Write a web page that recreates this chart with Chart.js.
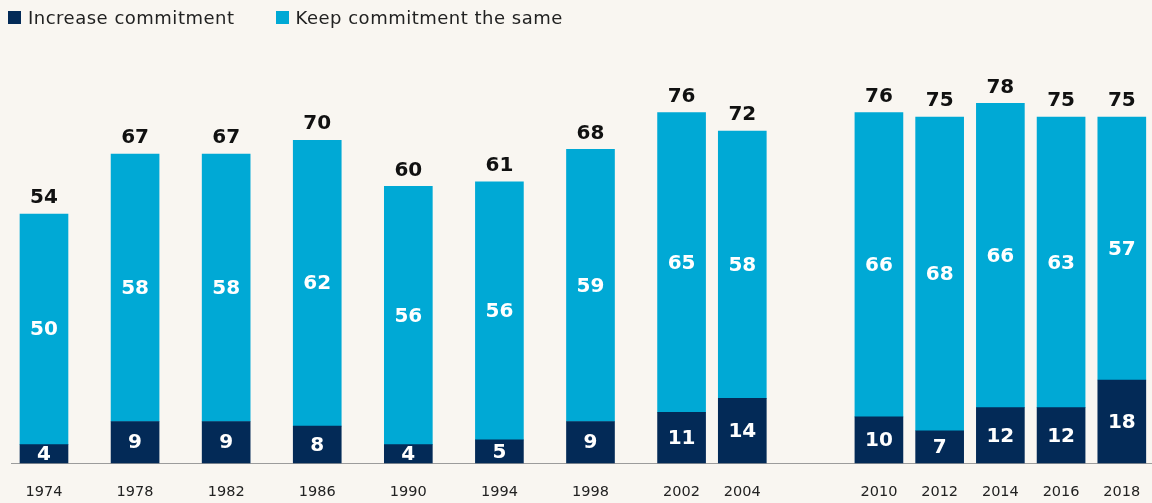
<!DOCTYPE html>
<html>
<head>
<meta charset="utf-8">
<script src="https://cdn.jsdelivr.net/npm/chart.js@4.4.1/dist/chart.umd.min.js"></script>
<style>
  html, body { margin: 0; padding: 0; background: #f9f6f1; }
  #wrap { position: relative; width: 1152px; height: 503px; }
  #legend {
    position: absolute; left: 8px; top: 7px;
    display: flex; gap: 41px;
    font-family: "DejaVu Sans", sans-serif; font-size: 18px; letter-spacing: 0.5px;
    color: #222;
  }
  .legend-item { display: flex; align-items: center; }
  .legend-box { width: 13px; height: 13px; margin-right: 7px; }
</style>
</head>
<body>
<div id="wrap">
  <canvas id="chart" width="1152" height="503"></canvas>
  <div id="legend"></div>
</div>
<script>
const years = [1974, 1978, 1982, 1986, 1990, 1994, 1998, 2002, 2004, 2010, 2012, 2014, 2016, 2018];
const increaseCommitment = [4, 9, 9, 8, 4, 5, 9, 11, 14, 10, 7, 12, 12, 18];
const keepCommitment = [50, 58, 58, 62, 56, 56, 59, 65, 58, 66, 68, 66, 63, 57];
const totals = [54, 67, 67, 70, 60, 61, 68, 76, 72, 76, 75, 78, 75, 75];

// empty category slots before each year, gives the uneven spacing of the original
const gapsBefore = [0, 5, 5, 5, 5, 5, 5, 5, 3, 8, 3, 3, 3, 3];

const NAVY = "#032a57";
const BLUE = "#00a9d5";

const labels = [];
const increaseSlots = [];
const keepSlots = [];
const totalSlots = [];
years.forEach((year, i) => {
    for (let g = 0; g < gapsBefore[i]; g++) {
        labels.push("");
        increaseSlots.push(null);
        keepSlots.push(null);
        totalSlots.push(null);
    }
    labels.push(String(year));
    increaseSlots.push(increaseCommitment[i]);
    keepSlots.push(keepCommitment[i]);
    totalSlots.push(totals[i]);
});

// numbers inside segments and totals on top
const barLabels = {
    id: "barLabels",
    afterDatasetsDraw(chart) {
        const ctx = chart.ctx;
        ctx.save();
        ctx.textAlign = "center";
        ctx.textBaseline = "middle";
        ctx.font = "bold 20px 'DejaVu Sans'";
        chart.data.datasets.forEach((ds, di) => {
            const meta = chart.getDatasetMeta(di);
            meta.data.forEach((bar, i) => {
                if (ds.data[i] == null) return;
                ctx.fillStyle = "#ffffff";
                ctx.fillText(ds.data[i], bar.x, (bar.y + bar.base) / 2 + 1);
            });
        });
        const topMeta = chart.getDatasetMeta(chart.data.datasets.length - 1);
        topMeta.data.forEach((bar, i) => {
            if (totalSlots[i] == null) return;
            ctx.fillStyle = "#111111";
            ctx.fillText(totalSlots[i], bar.x, bar.y - 16);
        });
        ctx.restore();
    }
};

// axis line runs the full width of the picture
const baseline = {
    id: "baseline",
    beforeDatasetsDraw(chart) {
        const ctx = chart.ctx;
        const y = chart.scales.y.getPixelForValue(0);
        ctx.save();
        ctx.strokeStyle = "#9c9c9c";
        ctx.lineWidth = 1.2;
        ctx.beginPath();
        ctx.moveTo(11, y + 0.5);
        ctx.lineTo(chart.width, y + 0.5);
        ctx.stroke();
        ctx.restore();
    }
};

const chart = new Chart(document.getElementById("chart"), {
    type: "bar",
    data: {
        labels: labels,
        datasets: [
            {
                label: "Increase commitment",
                data: increaseSlots,
                backgroundColor: NAVY,
                barThickness: 48,
                clip: false
            },
            {
                label: "Keep commitment the same",
                data: keepSlots,
                backgroundColor: BLUE,
                barThickness: 48,
                clip: false
            }
        ]
    },
    options: {
        responsive: false,
        animation: false,
        layout: {
            padding: { left: 36.4, right: 22.6, top: 48, bottom: 0 }
        },
        scales: {
            x: {
                stacked: true,
                grid: { display: false, drawTicks: false },
                border: { display: false },
                afterFit(scale) {
                    scale.height = 40;
                    scale.paddingLeft = 0;
                    scale.paddingRight = 0;
                },
                ticks: {
                    autoSkip: false,
                    maxRotation: 0,
                    padding: 21,
                    color: "#222",
                    font: { family: "DejaVu Sans", size: 14.5 }
                }
            },
            y: {
                stacked: true,
                display: false,
                min: 0,
                max: 90
            }
        },
        plugins: {
            legend: { display: false },
            tooltip: { enabled: false }
        }
    },
    plugins: [baseline, barLabels]
});

// html legend from the chart's own legend items
const legendEl = document.getElementById("legend");
Chart.defaults.plugins.legend.labels.generateLabels(chart).forEach(item => {
    const el = document.createElement("div");
    el.className = "legend-item";
    const box = document.createElement("span");
    box.className = "legend-box";
    box.style.background = item.fillStyle;
    const text = document.createElement("span");
    text.textContent = item.text;
    el.appendChild(box);
    el.appendChild(text);
    legendEl.appendChild(el);
});
</script>
</body>
</html>
